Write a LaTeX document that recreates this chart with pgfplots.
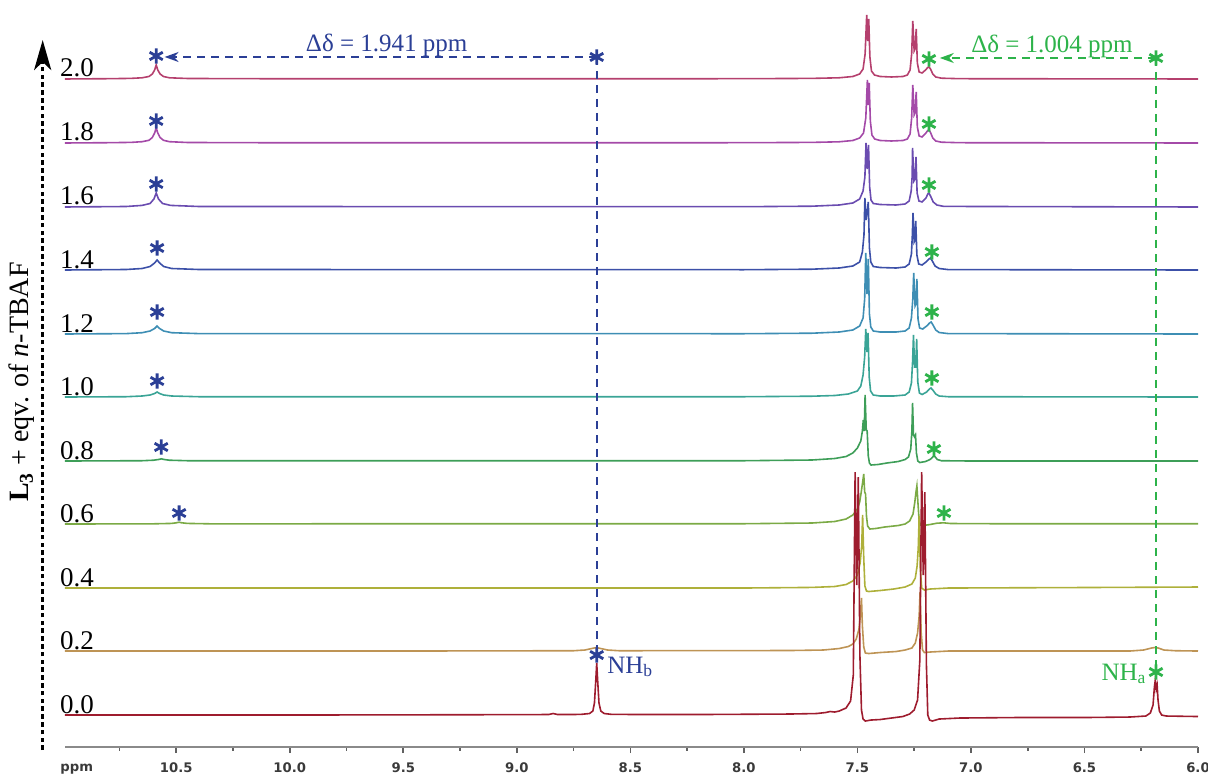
\documentclass[border=0pt]{standalone}
\usepackage{fontspec}
\setmainfont{Liberation Serif}
\newfontfamily\tickfont{DejaVu Sans}
\usepackage{pgfplots}
\pgfplotsset{compat=1.18}
\usetikzlibrary{arrows.meta}
\definecolor{c20}{HTML}{B5406E}
\definecolor{c18}{HTML}{A44AA8}
\definecolor{c16}{HTML}{6A4CB0}
\definecolor{c14}{HTML}{3C50A8}
\definecolor{c12}{HTML}{3E8EB4}
\definecolor{c10}{HTML}{3AA496}
\definecolor{c08}{HTML}{3E9E58}
\definecolor{c06}{HTML}{7BAA45}
\definecolor{c04}{HTML}{AEB03A}
\definecolor{c02}{HTML}{BE9455}
\definecolor{c00}{HTML}{9E1C2E}
\definecolor{annblue}{HTML}{2B3F96}
\definecolor{anngreen}{HTML}{2DB34A}
\definecolor{axgray}{HTML}{8A8A8A}
\definecolor{ticktext}{HTML}{3A3A3A}
\begin{document}
\begin{tikzpicture}
\begin{axis}[
  scale only axis, width=566.5pt, height=373.5pt,
  xmin=6.0, xmax=10.99, ymin=0, ymax=747,
  x dir=reverse, clip=false,
  axis x line*=bottom, axis y line=none,
  x axis line style={axgray, line width=1pt},
  xtick={6,6.5,7,7.5,8,8.5,9,9.5,10,10.5},
  minor xtick={6.25,6.75,7.25,7.75,8.25,8.75,9.25,9.75,10.25,10.75},
  tick align=outside,
  major tick length=3pt, minor tick length=1.8pt,
  tick style={axgray!70!black, line width=0.8pt},
  ytick=\empty,
  xticklabel style={font=\tickfont\bfseries\fontsize{6.6}{7.5}\selectfont, text=ticktext, yshift=-1.5pt,
    /pgf/number format/fixed, /pgf/number format/fixed zerofill,
    /pgf/number format/precision=1, /pgf/number format/assume math mode=true},
  every axis plot/.append style={line width=0.8pt},
]
% ---------- 2.0 ----------
\addplot[c20] table[row sep=\\, y expr=\thisrow{y}+668] {
x y \\
10.99 0 \\ 10.80 0.3 \\ 10.70 0.6 \\ 10.65 1.2 \\ 10.62 2.5 \\ 10.605 5 \\ 10.595 9 \\ 10.588 14 \\ 10.581 9 \\ 10.571 5 \\ 10.556 2.5 \\ 10.53 1.2 \\ 10.45 0.5 \\ 10.0 0.2 \\ 9.0 0.2 \\ 8.0 0.3 \\ 7.70 0.6 \\ 7.58 1.2 \\ 7.52 2.5 \\ 7.49 5 \\ 7.475 10 \\ 7.466 25 \\ 7.459 64 \\ 7.455 38 \\ 7.450 60 \\ 7.445 22 \\ 7.438 8 \\ 7.425 4 \\ 7.40 2.5 \\ 7.35 2 \\ 7.30 2.5 \\ 7.28 4 \\ 7.268 9 \\ 7.261 25 \\ 7.256 58 \\ 7.250 28 \\ 7.246 30 \\ 7.241 50 \\ 7.236 16 \\ 7.228 7 \\ 7.215 6 \\ 7.200 9 \\ 7.190 11.5 \\ 7.185 12 \\ 7.178 10 \\ 7.168 5 \\ 7.155 2 \\ 7.13 0.8 \\ 7.05 0.3 \\ 6.0 0 \\
};
% ---------- 1.8 ----------
\addplot[c18] table[row sep=\\, y expr=\thisrow{y}+604] {
x y \\
10.99 0 \\ 10.80 0.3 \\ 10.70 0.6 \\ 10.65 1.3 \\ 10.62 2.7 \\ 10.605 5.5 \\ 10.595 10 \\ 10.588 15 \\ 10.581 10 \\ 10.571 5.5 \\ 10.556 2.7 \\ 10.53 1.3 \\ 10.45 0.5 \\ 10.0 0.2 \\ 9.0 0.2 \\ 8.0 0.3 \\ 7.70 0.6 \\ 7.58 1.2 \\ 7.52 2.5 \\ 7.49 5 \\ 7.473 10 \\ 7.463 25 \\ 7.456 63 \\ 7.452 38 \\ 7.448 60 \\ 7.443 22 \\ 7.436 8 \\ 7.424 4 \\ 7.40 2.5 \\ 7.35 2 \\ 7.30 2.5 \\ 7.28 4 \\ 7.268 9 \\ 7.261 25 \\ 7.256 58 \\ 7.250 28 \\ 7.246 30 \\ 7.241 51 \\ 7.236 16 \\ 7.228 7 \\ 7.215 6 \\ 7.200 9.5 \\ 7.190 12.5 \\ 7.185 13 \\ 7.178 10.5 \\ 7.168 5 \\ 7.155 2 \\ 7.13 0.8 \\ 7.05 0.3 \\ 6.0 0 \\
};
% ---------- 1.6 ----------
\addplot[c16] table[row sep=\\, y expr=\thisrow{y}+540] {
x y \\
10.99 0 \\ 10.72 0.5 \\ 10.65 1.6 \\ 10.615 3.5 \\ 10.598 8 \\ 10.588 14 \\ 10.578 8 \\ 10.560 3.5 \\ 10.525 1.6 \\ 10.40 0.5 \\ 8.0 0.3 \\ 7.70 0.8 \\ 7.58 2 \\ 7.52 4 \\ 7.49 8 \\ 7.475 16 \\ 7.467 30 \\ 7.462 64 \\ 7.457 38 \\ 7.451 62 \\ 7.446 20 \\ 7.440 7 \\ 7.43 3.5 \\ 7.40 2.5 \\ 7.33 2 \\ 7.29 3 \\ 7.272 6 \\ 7.263 16 \\ 7.259 30 \\ 7.257 59 \\ 7.251 26 \\ 7.246 28 \\ 7.242 50 \\ 7.237 14 \\ 7.229 6 \\ 7.215 5 \\ 7.198 9 \\ 7.190 13 \\ 7.185 14 \\ 7.178 11 \\ 7.166 5 \\ 7.15 2 \\ 7.12 0.6 \\ 6.0 0 \\
};
% ---------- 1.4 ----------
\addplot[c14] table[row sep=\\, y expr=\thisrow{y}+477] {
x y \\
10.99 0 \\ 10.72 0.5 \\ 10.65 1.5 \\ 10.615 3.5 \\ 10.595 7 \\ 10.584 10 \\ 10.573 7 \\ 10.555 3.5 \\ 10.52 1.5 \\ 10.40 0.5 \\ 8.0 0.3 \\ 7.70 0.8 \\ 7.58 2 \\ 7.52 4 \\ 7.49 8 \\ 7.478 18 \\ 7.471 35 \\ 7.467 72 \\ 7.462 50 \\ 7.457 58 \\ 7.452 68 \\ 7.447 22 \\ 7.441 8 \\ 7.43 3.5 \\ 7.40 2.5 \\ 7.33 2 \\ 7.29 3 \\ 7.272 6 \\ 7.262 16 \\ 7.258 35 \\ 7.255 57 \\ 7.250 28 \\ 7.246 30 \\ 7.243 49 \\ 7.238 15 \\ 7.230 6 \\ 7.215 5 \\ 7.198 8 \\ 7.185 11 \\ 7.178 12 \\ 7.170 9 \\ 7.158 4 \\ 7.14 1.5 \\ 7.10 0.4 \\ 6.0 0 \\
};
% ---------- 1.2 ----------
\addplot[c12] table[row sep=\\, y expr=\thisrow{y}+413] {
x y \\
10.99 0 \\ 10.72 0.4 \\ 10.65 1.3 \\ 10.615 3 \\ 10.595 5.5 \\ 10.584 8 \\ 10.573 5.5 \\ 10.555 3 \\ 10.52 1.3 \\ 10.40 0.4 \\ 8.0 0.3 \\ 7.70 0.8 \\ 7.58 2 \\ 7.52 4 \\ 7.49 8 \\ 7.475 16 \\ 7.468 35 \\ 7.463 81 \\ 7.458 40 \\ 7.452 75 \\ 7.447 20 \\ 7.441 7 \\ 7.43 3 \\ 7.40 2 \\ 7.33 2 \\ 7.29 3 \\ 7.272 6 \\ 7.262 16 \\ 7.256 35 \\ 7.252 61 \\ 7.246 28 \\ 7.242 30 \\ 7.238 55 \\ 7.233 15 \\ 7.226 6 \\ 7.212 5 \\ 7.195 8 \\ 7.182 11 \\ 7.175 12 \\ 7.167 9 \\ 7.155 4 \\ 7.14 1.5 \\ 7.10 0.4 \\ 6.0 0 \\
};
% ---------- 1.0 ----------
\addplot[c10] table[row sep=\\, y expr=\thisrow{y}+350] {
x y \\
10.99 0 \\ 10.72 0.3 \\ 10.65 1 \\ 10.615 2 \\ 10.595 3.5 \\ 10.584 5 \\ 10.573 3.5 \\ 10.555 2 \\ 10.52 1 \\ 10.40 0.3 \\ 8.0 0.3 \\ 7.70 0.8 \\ 7.60 1.5 \\ 7.54 3 \\ 7.50 6 \\ 7.485 11 \\ 7.475 22 \\ 7.468 40 \\ 7.463 68 \\ 7.458 45 \\ 7.453 64 \\ 7.448 20 \\ 7.442 6 \\ 7.43 2 \\ 7.40 1 \\ 7.34 1 \\ 7.29 2 \\ 7.272 5 \\ 7.262 14 \\ 7.257 35 \\ 7.253 62 \\ 7.248 30 \\ 7.243 30 \\ 7.239 58 \\ 7.234 15 \\ 7.227 4 \\ 7.215 2.5 \\ 7.195 5 \\ 7.183 8 \\ 7.176 9 \\ 7.168 7 \\ 7.155 3 \\ 7.14 1 \\ 7.10 0.3 \\ 6.0 0 \\
};
% ---------- 0.8 ----------
\addplot[c08] table[row sep=\\, y expr=\thisrow{y}+286] {
x y \\
10.99 0 \\ 10.65 0.3 \\ 10.60 0.8 \\ 10.575 1.6 \\ 10.566 2.2 \\ 10.555 1.6 \\ 10.53 0.8 \\ 10.45 0.3 \\ 8.0 0.3 \\ 7.70 1 \\ 7.60 2.5 \\ 7.55 4.5 \\ 7.52 8 \\ 7.50 13 \\ 7.485 20 \\ 7.478 30 \\ 7.474 41 \\ 7.470 30 \\ 7.466 66 \\ 7.461 31 \\ 7.457 30 \\ 7.452 5 \\ 7.447 -2 \\ 7.44 -4 \\ 7.41 -3.5 \\ 7.37 -2 \\ 7.32 -0.5 \\ 7.29 1.5 \\ 7.275 4 \\ 7.265 12 \\ 7.260 30 \\ 7.257 58 \\ 7.253 26 \\ 7.248 24 \\ 7.244 26 \\ 7.240 8 \\ 7.234 0 \\ 7.225 -1.5 \\ 7.20 -0.5 \\ 7.18 1.5 \\ 7.168 4 \\ 7.163 5 \\ 7.157 4 \\ 7.148 1.5 \\ 7.13 0.3 \\ 7.0 0 \\ 6.0 0 \\
};
% ---------- 0.6 ----------
\addplot[c06] table[row sep=\\, y expr=\thisrow{y}+223] {
x y \\
10.99 0 \\ 10.60 0.2 \\ 10.52 0.6 \\ 10.50 1.2 \\ 10.487 1.8 \\ 10.475 1.2 \\ 10.45 0.6 \\ 10.35 0.2 \\ 8.0 0.3 \\ 7.70 1 \\ 7.60 2.5 \\ 7.55 5 \\ 7.52 9 \\ 7.50 15 \\ 7.49 22 \\ 7.483 32 \\ 7.478 40 \\ 7.472 50 \\ 7.468 32 \\ 7.464 30 \\ 7.460 8 \\ 7.455 -2 \\ 7.445 -5 \\ 7.42 -4.5 \\ 7.38 -3 \\ 7.32 -1.5 \\ 7.29 0 \\ 7.27 3 \\ 7.255 10 \\ 7.247 22 \\ 7.242 32 \\ 7.238 38 \\ 7.233 20 \\ 7.228 3 \\ 7.222 -1 \\ 7.21 -1.5 \\ 7.18 -0.5 \\ 7.15 0.8 \\ 7.12 1.2 \\ 7.09 0.5 \\ 6.9 0.3 \\ 6.0 0.3 \\
};
% ---------- 0.4 ----------
\addplot[c04] table[row sep=\\, y expr=\thisrow{y}+159] {
x y \\
10.99 0 \\ 8.0 0 \\ 7.70 0.6 \\ 7.60 1.5 \\ 7.55 3.5 \\ 7.52 7 \\ 7.50 13 \\ 7.488 25 \\ 7.481 42 \\ 7.477 73 \\ 7.472 30 \\ 7.467 2 \\ 7.460 -3 \\ 7.45 -3.5 \\ 7.40 -2.5 \\ 7.34 -1 \\ 7.29 1 \\ 7.26 4 \\ 7.245 10 \\ 7.237 22 \\ 7.232 40 \\ 7.228 72 \\ 7.223 20 \\ 7.217 0 \\ 7.205 -2 \\ 7.18 -1 \\ 7.10 0 \\ 6.5 0.5 \\ 6.0 1 \\
};
% ---------- 0.2 ----------
\addplot[c02] table[row sep=\\, y expr=\thisrow{y}+96] {
x y \\
10.99 0 \\ 9.5 0 \\ 8.75 0.3 \\ 8.70 1 \\ 8.67 2.5 \\ 8.65 3.5 \\ 8.63 2.5 \\ 8.60 1 \\ 8.55 0.3 \\ 7.80 0.5 \\ 7.65 1 \\ 7.58 2.5 \\ 7.54 4.5 \\ 7.52 7 \\ 7.505 12 \\ 7.493 22 \\ 7.487 35 \\ 7.482 53 \\ 7.478 25 \\ 7.472 4 \\ 7.465 -2 \\ 7.45 -2.5 \\ 7.40 -1.5 \\ 7.33 -0.5 \\ 7.29 1 \\ 7.26 3 \\ 7.245 8 \\ 7.235 18 \\ 7.228 35 \\ 7.224 59 \\ 7.219 18 \\ 7.213 1 \\ 7.205 -1.5 \\ 7.18 -1 \\ 7.10 0 \\ 6.30 0 \\ 6.24 1 \\ 6.205 3 \\ 6.19 3.5 \\ 6.175 3 \\ 6.15 1 \\ 6.10 0.3 \\ 6.0 0 \\
};
% ---------- 0.0 ----------
\addplot[c00] table[row sep=\\, y expr=\thisrow{y}+32] {
x y \\
10.99 0 \\ 10.0 0 \\ 9.20 0.3 \\ 8.86 0.5 \\ 8.84 1.5 \\ 8.82 0.5 \\ 8.72 0.6 \\ 8.68 1.5 \\ 8.665 4 \\ 8.658 12 \\ 8.652 35 \\ 8.648 52 \\ 8.644 35 \\ 8.638 12 \\ 8.63 4 \\ 8.615 1.5 \\ 8.58 0.6 \\ 8.20 0.5 \\ 7.80 1 \\ 7.68 1.5 \\ 7.64 2.5 \\ 7.62 3.5 \\ 7.60 3 \\ 7.58 4 \\ 7.55 7 \\ 7.53 14 \\ 7.518 40 \\ 7.510 243 \\ 7.503 130 \\ 7.496 238 \\ 7.489 60 \\ 7.482 5 \\ 7.475 -4 \\ 7.465 -6 \\ 7.44 -5 \\ 7.40 -4.5 \\ 7.35 -3 \\ 7.30 -1.5 \\ 7.27 1 \\ 7.25 5 \\ 7.235 15 \\ 7.225 55 \\ 7.217 243 \\ 7.210 140 \\ 7.203 223 \\ 7.196 50 \\ 7.190 0 \\ 7.182 -5 \\ 7.17 -6 \\ 7.14 -4 \\ 7.05 -3 \\ 6.80 -2.5 \\ 6.50 -2.5 \\ 6.30 -2 \\ 6.23 -1 \\ 6.21 2 \\ 6.198 10 \\ 6.192 28 \\ 6.188 35 \\ 6.184 26 \\ 6.180 30 \\ 6.176 15 \\ 6.17 4 \\ 6.16 0 \\ 6.14 -1 \\ 6.0 -1.5 \\
};
% ---------- annotation lines ----------
\draw[annblue, line width=1pt, dash pattern=on 4pt off 3pt] (axis cs:8.648,690) -- (axis cs:8.648,97);
\draw[annblue, line width=1pt, dash pattern=on 4pt off 3pt, -{Stealth[length=7pt,width=5pt]}] (axis cs:8.648,690) -- (axis cs:10.551,690);
\draw[anngreen, line width=1pt, dash pattern=on 4pt off 3pt] (axis cs:6.185,689) -- (axis cs:6.185,82);
\draw[anngreen, line width=1pt, dash pattern=on 4pt off 3pt, -{Stealth[length=7pt,width=5pt]}] (axis cs:6.185,689) -- (axis cs:7.137,689);
% ---------- stars ----------
\addplot[only marks, mark=asterisk, annblue, mark size=3.8pt, line width=1.4pt] coordinates {
(10.588,691) (10.588,626) (10.588,563) (10.584,499) (10.584,435) (10.584,366) (10.566,300) (10.487,234) (8.648,690) (8.648,92)};
\addplot[only marks, mark=asterisk, anngreen, mark size=3.8pt, line width=1.4pt] coordinates {
(7.185,688) (7.185,623) (7.185,562) (7.172,495) (7.172,435) (7.172,369) (7.163,298) (7.119,234) (6.185,689) (6.185,75)};
% ---------- texts ----------
\node[annblue, anchor=base, font=\fontsize{12.5}{14}\selectfont] at (axis cs:9.573,695) {Δδ = 1.941 ppm};
\node[anngreen, anchor=base, font=\fontsize{12.5}{14}\selectfont] at (axis cs:6.643,694) {Δδ = 1.004 ppm};
\node[annblue, anchor=base west, inner sep=0pt, font=\fontsize{12.5}{14}\selectfont] at (axis cs:8.603,74) {NH\textsubscript{b}};
\node[anngreen, anchor=base east, inner sep=0pt, font=\fontsize{12.5}{14}\selectfont] at (axis cs:6.225,67) {NH\textsubscript{a}};
\node[anchor=base west, inner sep=0pt, font=\fontsize{13.5}{15}\selectfont] at (axis cs:11.013,670) {2.0};
\node[anchor=base west, inner sep=0pt, font=\fontsize{13.5}{15}\selectfont] at (axis cs:11.013,606) {1.8};
\node[anchor=base west, inner sep=0pt, font=\fontsize{13.5}{15}\selectfont] at (axis cs:11.013,542) {1.6};
\node[anchor=base west, inner sep=0pt, font=\fontsize{13.5}{15}\selectfont] at (axis cs:11.013,479) {1.4};
\node[anchor=base west, inner sep=0pt, font=\fontsize{13.5}{15}\selectfont] at (axis cs:11.013,415) {1.2};
\node[anchor=base west, inner sep=0pt, font=\fontsize{13.5}{15}\selectfont] at (axis cs:11.013,352) {1.0};
\node[anchor=base west, inner sep=0pt, font=\fontsize{13.5}{15}\selectfont] at (axis cs:11.013,288) {0.8};
\node[anchor=base west, inner sep=0pt, font=\fontsize{13.5}{15}\selectfont] at (axis cs:11.013,225) {0.6};
\node[anchor=base west, inner sep=0pt, font=\fontsize{13.5}{15}\selectfont] at (axis cs:11.013,161) {0.4};
\node[anchor=base west, inner sep=0pt, font=\fontsize{13.5}{15}\selectfont] at (axis cs:11.013,98) {0.2};
\node[anchor=base west, inner sep=0pt, font=\fontsize{13.5}{15}\selectfont] at (axis cs:11.013,34) {0.0};
\node[anchor=north, text=ticktext, font=\tickfont\bfseries\fontsize{6.6}{7.5}\selectfont] at (axis cs:10.938,0) [yshift=-4.8pt] {ppm};
\node[rotate=90, font=\fontsize{14}{16}\selectfont] at (axis cs:11.18,365) {\textbf{L\textsubscript{3}} + eqv. of \textit{n}-TBAF};
\draw[black, line width=1.6pt, dash pattern=on 2.3pt off 1.6pt, -{Stealth[length=15pt,width=8.5pt,inset=4pt]}] (axis cs:11.088,-3) -- (axis cs:11.088,707);
\coordinate (BL) at (axis cs:11.276,-27);
\coordinate (TR) at (axis cs:5.956,747);
\end{axis}
\pgfresetboundingbox
\useasboundingbox (BL) rectangle (TR);
\end{tikzpicture}
\end{document}
